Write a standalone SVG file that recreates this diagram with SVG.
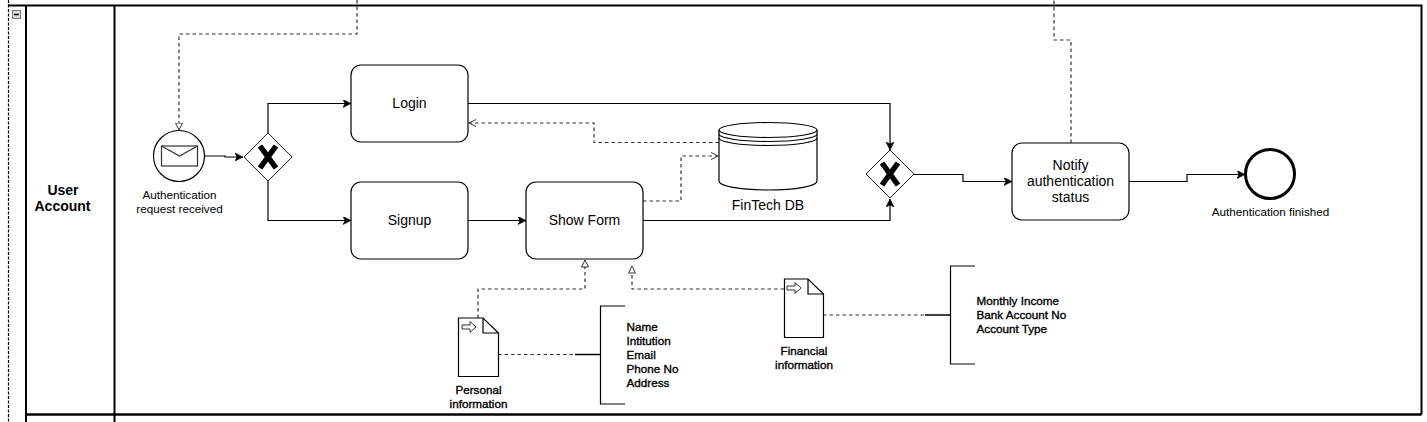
<svg xmlns="http://www.w3.org/2000/svg" width="1427" height="422" viewBox="0 0 1427 422">
<style>
text{font-family:"Liberation Sans",Arial,sans-serif;fill:#000;text-anchor:middle}
.t{font-size:14px}.s{font-size:11.700px}
.b{font-size:11.700px;stroke:#000;stroke-width:.35px}
.h{font-size:14px;font-weight:bold}
.l{text-anchor:start}
.shape{fill:#fff;stroke:#000;stroke-width:1.200}
.gw{fill:#fff;stroke:#222;stroke-width:1}
.flow{fill:none;stroke:#000;stroke-width:1.200}
.dash{fill:none;stroke:#333;stroke-width:1.200;stroke-dasharray:3.500 3}
.pool{fill:none;stroke:#000;stroke-width:2}
.x{fill:none;stroke:#000;stroke-width:5.500}
</style>
<defs>
<marker id="solid" markerUnits="userSpaceOnUse" markerWidth="10" markerHeight="10" refX="8" refY="4" orient="auto"><path d="M0 0L8 4L0 8L2 4Z" fill="#000" stroke="#000" stroke-width=".6"/></marker>
<marker id="hollow" markerUnits="userSpaceOnUse" markerWidth="10" markerHeight="10" refX="7.500" refY="4" orient="auto"><path d="M.5 .5L7.500 4L.5 7.500Z" fill="#fff" stroke="#333"/></marker>
<marker id="open" markerUnits="userSpaceOnUse" markerWidth="10" markerHeight="10" refX="7.500" refY="4" orient="auto"><path d="M.5 .5L7.500 4L.5 7.500" fill="none" stroke="#333"/></marker>
</defs>
<g id="pool">
<path d="M8.500 0V422" fill="none" stroke="#000" stroke-width="1.200" stroke-dasharray="3 1.500"/>
<path class="pool" d="M8 5.500H1421.500V414.500"/>
<path class="pool" d="M26 5.500V422M114.500 5.500V422"/>
<path d="M26 414.500H1421.500" fill="none" stroke="#000" stroke-width="2.500"/>
<rect x="12.500" y="10.500" width="8" height="8" fill="#ddd" stroke="#777"/>
<path d="M14 14.500H19" stroke="#000" stroke-width="1.500"/>
<text class="h" x="63" y="195">User</text>
<text class="h" x="62.500" y="211">Account</text>
</g>
<g id="connectors">
<path class="dash" d="M357 0V34H179V130" marker-end="url(#hollow)"/>
<path class="dash" d="M1071 143V40H1054V0"/>
<path class="flow" d="M205 156H225V157H243" marker-end="url(#solid)"/>
<path class="flow" d="M268 133V103.500H351" marker-end="url(#solid)"/>
<path class="flow" d="M268 181V220.500H351" marker-end="url(#solid)"/>
<path class="flow" d="M468 220.500H526" marker-end="url(#solid)"/>
<path class="flow" d="M468 103.500H890V150" marker-end="url(#solid)"/>
<path class="flow" d="M643 220.500H890V199" marker-end="url(#solid)"/>
<path class="flow" d="M914 174.500H963V181.500H1012" marker-end="url(#solid)"/>
<path class="flow" d="M1129 181.500H1187V174.500H1245" marker-end="url(#solid)"/>
<path class="dash" d="M719 142.500H594V123H469" marker-end="url(#open)"/>
<path class="dash" d="M643 201H681V156H718" marker-end="url(#open)"/>
<path class="dash" d="M478 318V289H585V260" marker-end="url(#hollow)"/>
<path class="dash" d="M784 289H632V266" marker-end="url(#hollow)"/>
<path class="dash" d="M498 354.500H575"/>
<path class="dash" d="M823 315H925"/>
</g>
<g id="start-event">
<circle class="shape" cx="179" cy="156" r="25.500"/>
<rect x="161.500" y="146" width="36" height="20" fill="#fff" stroke="#333" stroke-width="1.200"/>
<path d="M161.500 146L179.500 156L197.500 146" fill="none" stroke="#333" stroke-width="1.200"/>
<text class="s" x="179.500" y="199">Authentication</text>
<text class="s" x="179.500" y="213">request received</text>
</g>
<g id="gateway-split">
<path class="gw" d="M268 133L292 157L268 181L244 157Z"/>
<path class="x" d="M260 146L276 168M276 146L260 168"/>
</g>
<g id="login"><rect class="shape" x="351" y="65" width="117" height="77" rx="10"/><text class="t" x="409.500" y="108">Login</text></g>
<g id="signup"><rect class="shape" x="351" y="182" width="117" height="77" rx="10"/><text class="t" x="409.500" y="225">Signup</text></g>
<g id="show-form"><rect class="shape" x="526" y="182" width="117" height="77" rx="10"/><text class="t" x="584.500" y="225">Show Form</text></g>
<g id="fintech-db">
<path class="shape" d="M719 130C719 126 740 122.500 768 122.500C796 122.500 817 126 817 130V181C817 186 796 190 768 190C740 190 719 186 719 181Z"/>
<path class="flow" d="M719 130C719 134 740 137.500 768 137.500C796 137.500 817 134 817 130M719 134C719 138 740 141.500 768 141.500C796 141.500 817 138 817 134M719 138C719 142 740 145.500 768 145.500C796 145.500 817 142 817 138"/>
<text class="t" x="768" y="209.500">FinTech DB</text>
</g>
<g id="gateway-merge">
<path class="gw" d="M890 150L914 174L890 198L866 174Z"/>
<path class="x" d="M882 163L898 185M898 163L882 185"/>
</g>
<g id="notify"><rect class="shape" x="1012" y="143" width="117" height="77" rx="10"/>
<text class="t" x="1070.500" y="170">Notify</text><text class="t" x="1070.500" y="186">authentication</text><text class="t" x="1070.500" y="202">status</text></g>
<g id="end-event">
<circle cx="1270" cy="174" r="24.500" fill="#fff" stroke="#000" stroke-width="3"/>
<text class="s" x="1270.500" y="216">Authentication finished</text>
</g>
<g id="personal-information">
<path class="shape" d="M458.500 318H483L498.500 333V376.500H458.500Z"/>
<path class="flow" d="M483 318V333H498.500"/>
<path d="M462 325H470V321.500L476 327L470 332.500V329H462Z" fill="#fff" stroke="#333"/>
<text class="b" x="478.500" y="394">Personal</text><text class="b" x="478.500" y="408">information</text>
</g>
<g id="personal-annotation">
<path d="M575 354.500H600" stroke="#000" stroke-width="1.500"/>
<path class="flow" d="M625 306H600.500V404H625"/>
<text class="b l" x="626.500" y="331">Name</text><text class="b l" x="626.500" y="345">Intitution</text><text class="b l" x="626.500" y="359">Email</text><text class="b l" x="626.500" y="373">Phone No</text><text class="b l" x="626.500" y="387">Address</text>
</g>
<g id="financial-information">
<path class="shape" d="M784.500 279H808L823.500 294V337.500H784.500Z"/>
<path class="flow" d="M808 279V294H823.500"/>
<path d="M787 286H795V282.500L801 288L795 293.500V290H787Z" fill="#fff" stroke="#333"/>
<text class="b" x="804" y="355">Financial</text><text class="b" x="804" y="369">information</text>
</g>
<g id="financial-annotation">
<path d="M925 315H950" stroke="#000" stroke-width="1.500"/>
<path class="flow" d="M975 266H950.500V364H975"/>
<text class="b l" x="976.500" y="305">Monthly Income</text><text class="b l" x="976.500" y="319">Bank Account No</text><text class="b l" x="976.500" y="333">Account Type</text>
</g>
</svg>
